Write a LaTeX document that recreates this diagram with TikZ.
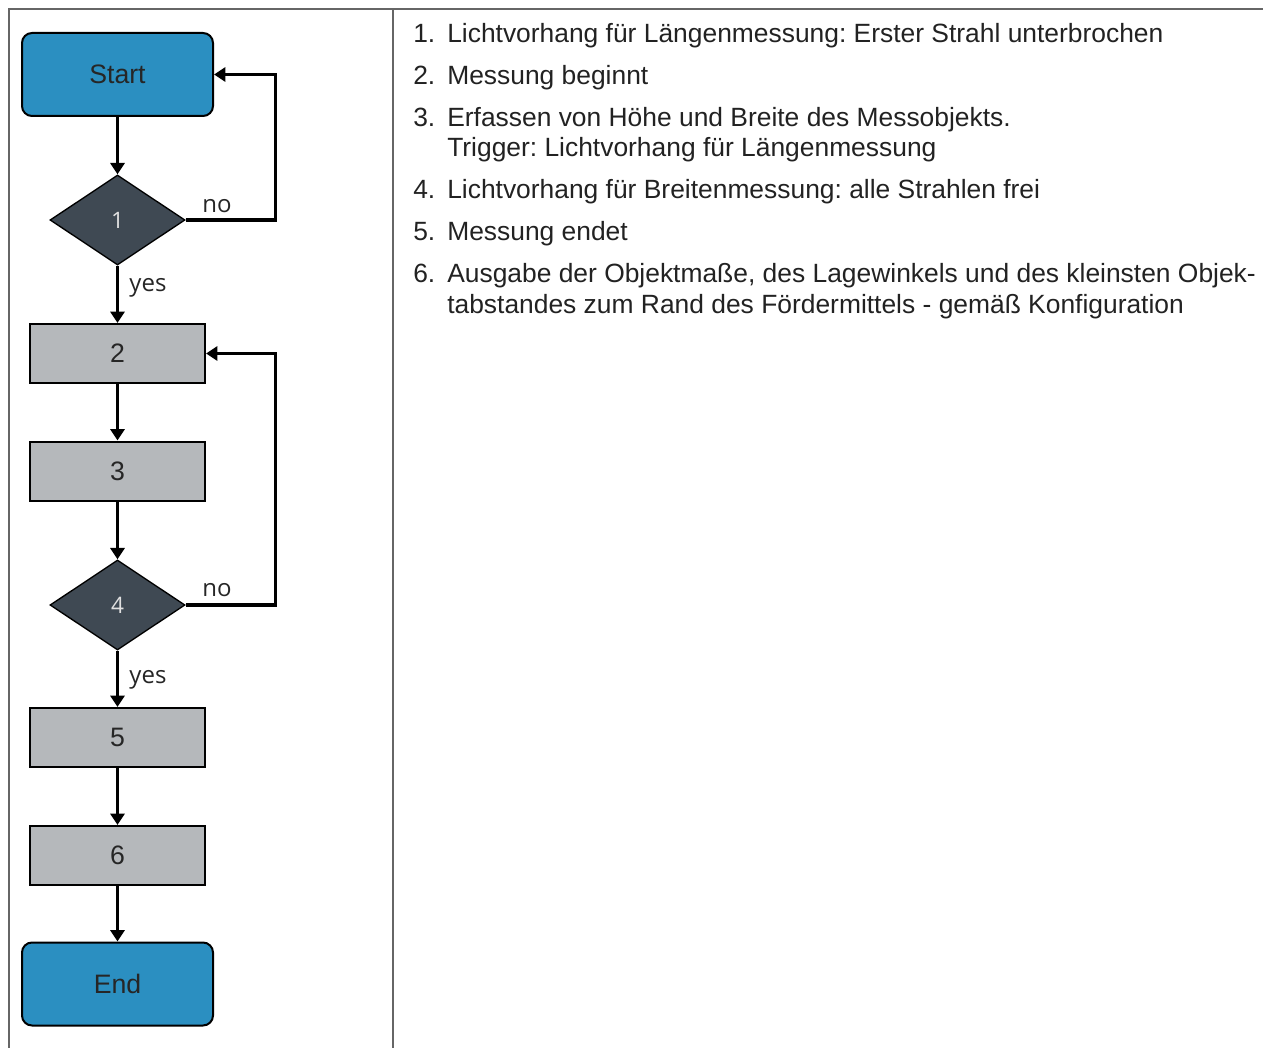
\documentclass[tikz,border=0pt]{standalone}
\usepackage{fontspec}
\setmainfont{Liberation Sans}
\newfontfamily\osans{Open Sans}
\usetikzlibrary{shapes.geometric,arrows.meta}
\definecolor{termblue}{HTML}{2B8FC1}
\definecolor{decdark}{HTML}{3F4953}
\definecolor{procgray}{HTML}{B5B8BB}
\definecolor{framegray}{HTML}{666666}
\definecolor{txt}{HTML}{222222}
\frenchspacing
\begin{document}
\begin{tikzpicture}[x=0.75pt,y=-0.75pt,
  terminal/.style={draw=black,line width=1.5pt,fill=termblue,rounded corners=7.5pt,
    minimum width=143.25pt,minimum height=62.25pt,inner sep=0pt,font=\fontsize{20}{22}\selectfont,text=black!85},
  process/.style={draw=black,line width=1.5pt,fill=procgray,
    minimum width=131.25pt,minimum height=44.25pt,inner sep=0pt,font=\fontsize{20}{22}\selectfont,text=black!85},
  decision/.style={draw=black,line width=1pt,fill=decdark,diamond,aspect=1.5,
    minimum width=101.25pt,minimum height=67.5pt,inner sep=0pt,font=\osans\fontsize{17}{19}\selectfont,text=white!88!black},
  arr/.style={line width=2.6pt,-{Triangle[length=8.5pt,width=10.5pt]}},
  lbl/.style={font=\osans\fontsize{18}{20}\selectfont,text=black!85,inner sep=0pt},
  item/.style={anchor=base west,inner sep=0pt,font=\fontsize{19.8}{22}\selectfont,text=txt},
  frame/.style={draw=framegray,line width=1.2pt}
]
\useasboundingbox (0,0) rectangle (1263,1048);
% table frame
\draw[frame] (9,1048) -- (9,9) -- (1263,9);
\draw[frame] (393,9) -- (393,1048);

% flowchart
\node[terminal] (start) at (117.5,74.5) {Start};
\node[decision] (d1) at (117.5,220) {1};
\node[process] (b2) at (117.5,353.5) {2};
\node[process] (b3) at (117.5,471) {3};
\node[decision] (d4) at (117.5,605) {4};
\node[process] (b5) at (117.5,737.5) {5};
\node[process] (b6) at (117.5,855.5) {6};
\node[terminal] (end) at (117.5,984) {End};

\draw[arr] (start) -- (d1);
\draw[arr] (d1) -- (b2);
\draw[arr] (b2) -- (b3);
\draw[arr] (b3) -- (d4);
\draw[arr] (d4) -- (b5);
\draw[arr] (b5) -- (b6);
\draw[arr] (b6) -- (end);
\draw[arr] (d1.east) -- ++(90,0) |- (start.east);
\draw[arr] (d4.east) -- ++(90,0) |- (b2.east);

\node[lbl] (no1) at (217,206) {no};
\node[lbl] (yes1) at (148,288) {yes};
\node[lbl] (no4) at (217,590) {no};
\node[lbl] (yes4) at (148,680) {yes};

% list
\node[item] (n1) at (413,43) {1.};
\node[item] (t1) at (447,43) {Lichtvorhang für Längenmessung: Erster Strahl unterbrochen};
\node[item] (n2) at (413,85) {2.};
\node[item] (t2) at (447,85) {Messung beginnt};
\node[item] (n3) at (413,127) {3.};
\node[item] (t3) at (447,127) {Erfassen von Höhe und Breite des Messobjekts.};
\node[item] (t3b) at (447,157) {Trigger: Lichtvorhang für Längenmessung};
\node[item] (n4) at (413,199) {4.};
\node[item] (t4) at (447,199) {Lichtvorhang für Breitenmessung: alle Strahlen frei};
\node[item] (n5) at (413,241) {5.};
\node[item] (t5) at (447,241) {Messung endet};
\node[item] (n6) at (413,283) {6.};
\node[item] (t6) at (447,283) {Ausgabe der Objektmaße, des Lagewinkels und des kleinsten Objek-};
\node[item] (t6b) at (447,314) {tabstandes zum Rand des Fördermittels - gemäß Konfiguration};
\end{tikzpicture}
\end{document}
